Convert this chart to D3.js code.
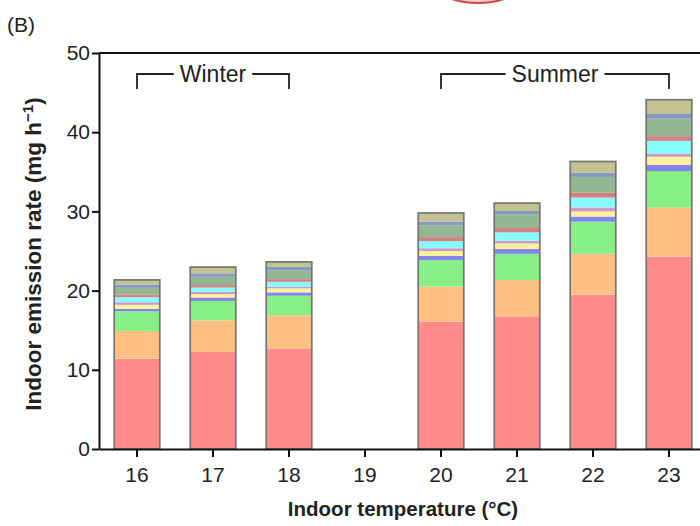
<!DOCTYPE html>
<html>
<head>
<meta charset="utf-8">
<script src="https://cdn.jsdelivr.net/npm/d3@7"></script>
<style>
  body { margin: 0; background: #fff; }
  svg { display: block; font-family: "Liberation Sans", Arial, sans-serif; }
</style>
</head>
<body>
<svg id="chart"></svg>
<script>
const temps = ["16", "17", "18", "19", "20", "21", "22", "23"];
const components = ["c1", "c2", "c3", "c4", "c5", "c6", "c7", "c8", "c9", "c10", "c11"];
const colors = ["#ff8a8a", "#ffc082", "#86f086", "#8383ee", "#fff29a", "#d09ac8",
                "#86fcfc", "#d28080", "#92b792", "#8898c4", "#c2c292"];

// emission per component (mg h-1), bottom to top; 19 °C has no data
const c1  = [11.4, 12.25, 12.7, 0, 16.1, 16.75, 19.5, 24.3];
const c2  = [3.5, 4.0, 4.2, 0, 4.4, 4.6, 5.15, 6.2];
const c3  = [2.5, 2.45, 2.45, 0, 3.35, 3.3, 4.05, 4.6];
const c4  = [0.3, 0.42, 0.43, 0, 0.55, 0.6, 0.65, 0.8];
const c5  = [0.5, 0.42, 0.5, 0, 0.6, 0.7, 0.65, 1.0];
const c6  = [0.33, 0.3, 0.2, 0, 0.35, 0.35, 0.5, 0.4];
const c7  = [0.63, 0.55, 0.63, 0, 0.9, 1.05, 1.25, 1.6];
const c8  = [0.34, 0.3, 0.34, 0, 0.5, 0.55, 0.65, 0.6];
const c9  = [0.85, 1.05, 1.13, 0, 1.5, 1.75, 1.95, 2.2];
const c10 = [0.41, 0.43, 0.42, 0, 0.45, 0.4, 0.55, 0.6];
const c11 = [0.59, 0.8, 0.63, 0, 1.1, 1.0, 1.4, 1.8];

const yTicks = [0, 10, 20, 30, 40, 50];
const seasons = [
  { label: "Winter", from: "16", to: "18" },
  { label: "Summer", from: "20", to: "23" }
];

const series = [c1, c2, c3, c4, c5, c6, c7, c8, c9, c10, c11];
const table = temps.map((t, i) => {
  const row = { temp: t };
  components.forEach((k, j) => row[k] = series[j][i]);
  return row;
});
const total = d => d3.sum(components, k => d[k]);

const width = 700;
const height = 526;
const marginTop = 53;
const marginLeft = 99;
const plotRight = 707;
const plotBottom = 449;

const svg = d3.select("#chart")
  .attr("width", width)
  .attr("height", height)
  .attr("viewBox", [0, 0, width, height]);

const x = d3.scaleBand()
  .domain(temps)
  .range([marginLeft, plotRight])
  .paddingInner(0.4)
  .paddingOuter(0.2);

const y = d3.scaleLinear()
  .domain([0, 50])
  .range([plotBottom, marginTop]);

// edge of the neighbouring panel, cut off at the top
svg.append("ellipse")
  .attr("cx", 478).attr("cy", -22)
  .attr("rx", 48).attr("ry", 25)
  .attr("fill", "#f3cccc")
  .attr("stroke", "#cc4a4a")
  .attr("stroke-width", 2);

svg.append("text")
  .attr("x", 7).attr("y", 32)
  .attr("font-size", 21)
  .attr("fill", "#222")
  .text("(B)");

// stacked bars
const stack = d3.stack().keys(components)(table);

svg.append("g")
  .selectAll("g")
  .data(stack)
  .join("g")
  .attr("fill", (d, i) => colors[i])
  .selectAll("rect")
  .data(d => d.filter(s => s[1] > s[0]))
  .join("rect")
  .attr("x", d => x(d.data.temp))
  .attr("y", d => y(d[1]))
  .attr("height", d => y(d[0]) - y(d[1]))
  .attr("width", x.bandwidth());

// bar outlines
svg.append("g")
  .selectAll("rect")
  .data(table.filter(d => total(d) > 0))
  .join("rect")
  .attr("x", d => x(d.temp))
  .attr("y", d => y(total(d)))
  .attr("height", d => y(0) - y(total(d)))
  .attr("width", x.bandwidth())
  .attr("fill", "none")
  .attr("stroke", "#757575")
  .attr("stroke-width", 1.7);

// frame
svg.append("line")
  .attr("x1", marginLeft).attr("x2", plotRight)
  .attr("y1", marginTop).attr("y2", marginTop)
  .attr("stroke", "#111").attr("stroke-width", 2);

const xAxis = svg.append("g")
  .attr("transform", `translate(0,${plotBottom})`)
  .call(d3.axisBottom(x).tickSize(8).tickPadding(10).tickSizeOuter(0));

const yAxis = svg.append("g")
  .attr("transform", `translate(${marginLeft},0)`)
  .call(d3.axisLeft(y).tickValues(yTicks).tickSize(7).tickPadding(2).tickSizeOuter(0));

[xAxis, yAxis].forEach(g => {
  g.select(".domain").attr("stroke", "#111").attr("stroke-width", 2);
  g.selectAll(".tick line").attr("stroke", "#111").attr("stroke-width", 2);
  g.selectAll(".tick text")
    .attr("font-size", 21)
    .attr("fill", "#222")
    .attr("font-family", "Liberation Sans, Arial, sans-serif");
});

// season brackets
const bracketY = 74;
const seasonG = svg.append("g")
  .attr("stroke", "#222")
  .attr("stroke-width", 1.8)
  .attr("fill", "none");

seasons.forEach(s => {
  const x0 = x(s.from) + x.bandwidth() / 2;
  const x1 = x(s.to) + x.bandwidth() / 2;
  const cx = (x0 + x1) / 2;
  const label = svg.append("text")
    .attr("x", cx).attr("y", bracketY + 8)
    .attr("text-anchor", "middle")
    .attr("font-size", 23)
    .attr("fill", "#222")
    .text(s.label);
  const half = label.node().getComputedTextLength() / 2 + 6;
  seasonG.append("path")
    .attr("d", `M${x0},${bracketY + 15}V${bracketY}H${cx - half}`);
  seasonG.append("path")
    .attr("d", `M${cx + half},${bracketY}H${x1}V${bracketY + 15}`);
});

// axis titles
svg.append("text")
  .attr("x", (marginLeft + plotRight) / 2)
  .attr("y", 516)
  .attr("text-anchor", "middle")
  .attr("font-size", 20.5)
  .attr("font-weight", "bold")
  .attr("fill", "#222")
  .text("Indoor temperature (°C)");

const yTitle = svg.append("text")
  .attr("transform", `translate(41,254) rotate(-90)`)
  .attr("text-anchor", "middle")
  .attr("font-size", 22.5)
  .attr("font-weight", "bold")
  .attr("fill", "#222");
yTitle.append("tspan").text("Indoor emission rate (mg h");
yTitle.append("tspan").attr("baseline-shift", "super").attr("font-size", 15).text("−1");
yTitle.append("tspan").text(")");
</script>
</body>
</html>
